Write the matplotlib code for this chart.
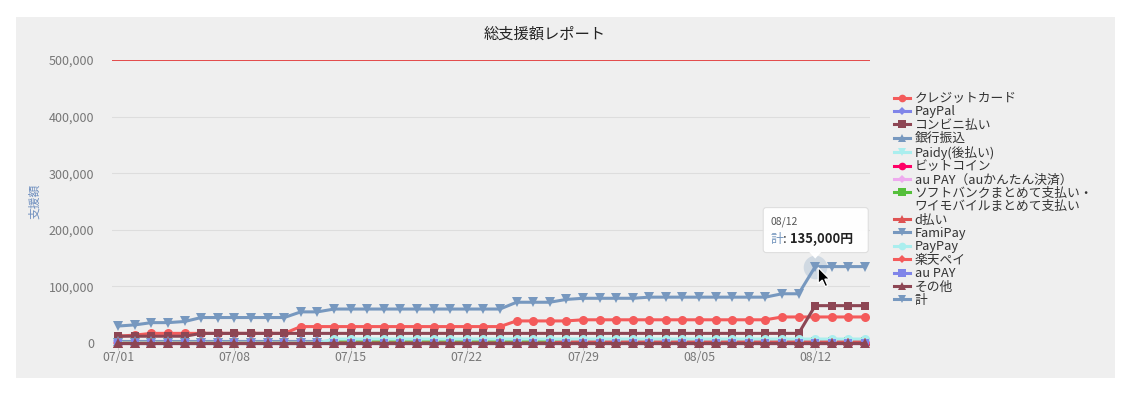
"""
総支援額レポート: 支払い方法別の累計支援額 (07/01-08/15)
出力: out.png
"""
import matplotlib
matplotlib.use('Agg')
import matplotlib.pyplot as plt
import matplotlib.transforms as mtransforms
from matplotlib.patches import Rectangle, FancyBboxPatch, Polygon
from matplotlib.lines import Line2D
from matplotlib.ticker import FuncFormatter

plt.rcParams['font.family'] = ['Noto Sans CJK JP', 'DejaVu Sans']

# 日付 (07/01 - 08/15)
dates = ['07/01', '07/02', '07/03', '07/04', '07/05', '07/06', '07/07', '07/08', '07/09', '07/10',
         '07/11', '07/12', '07/13', '07/14', '07/15', '07/16', '07/17', '07/18', '07/19', '07/20',
         '07/21', '07/22', '07/23', '07/24', '07/25', '07/26', '07/27', '07/28', '07/29', '07/30',
         '07/31', '08/01', '08/02', '08/03', '08/04', '08/05', '08/06', '08/07', '08/08', '08/09',
         '08/10', '08/11', '08/12', '08/13', '08/14', '08/15']
tick_labels = ['07/01', '07/08', '07/15', '07/22', '07/29', '08/05', '08/12']

credit = [12000, 14000, 17000, 17000, 17000, 17000, 17000, 17000, 17000, 17000,
          17000, 29000, 29000, 29000, 29000, 29000, 29000, 29000, 29000, 29000,
          29000, 29000, 29000, 29000, 39000, 39000, 39000, 39000, 41000, 41000,
          41000, 41000, 41000, 41000, 41000, 41000, 41000, 41000, 41000, 41000,
          46000, 46000, 46000, 46000, 46000, 46000]
paypal = [3000, 3000, 3000, 3000, 3000, 3000, 3000, 3000, 3000, 3000,
          3000, 3000, 3000, 3000, 3000, 3000, 3000, 3000, 3000, 3000,
          3000, 3000, 3000, 3000, 3000, 3000, 3000, 3000, 3000, 3000,
          3000, 3000, 3000, 3000, 3000, 3000, 3000, 3000, 3000, 3000,
          3000, 3000, 3000, 3000, 3000, 3000]
conbini = [12000, 12000, 12000, 12000, 12000, 17000, 17000, 17000, 17000, 17000,
           17000, 17000, 17000, 17000, 17000, 17000, 17000, 17000, 17000, 17000,
           17000, 17000, 17000, 17000, 17000, 17000, 17000, 17000, 17000, 17000,
           17000, 17000, 17000, 17000, 17000, 17000, 17000, 17000, 17000, 17000,
           17000, 17000, 66000, 66000, 66000, 66000]
bank = [3000, 3000, 3000, 3000, 3000, 3000, 3000, 3000, 3000, 3000,
        3000, 3000, 3000, 3000, 3000, 3000, 3000, 3000, 3000, 3000,
        3000, 3000, 3000, 3000, 3000, 3000, 3000, 3000, 3000, 3000,
        3000, 3000, 3000, 3000, 3000, 3000, 3000, 3000, 3000, 3000,
        3000, 3000, 3000, 3000, 3000, 3000]
zeros = [0, 0, 0, 0, 0, 0, 0, 0, 0, 0,
         0, 0, 0, 0, 0, 0, 0, 0, 0, 0,
         0, 0, 0, 0, 0, 0, 0, 0, 0, 0,
         0, 0, 0, 0, 0, 0, 0, 0, 0, 0,
         0, 0, 0, 0, 0, 0]
paidy = list(zeros)
bitcoin = list(zeros)
au_kantan = list(zeros)
softbank = [0, 0, 0, 0, 0, 0, 0, 0, 0, 0,
            0, 0, 0, 3000, 3000, 3000, 3000, 3000, 3000, 3000,
            3000, 3000, 3000, 3000, 3000, 3000, 3000, 3000, 3000, 3000,
            3000, 3000, 3000, 3000, 3000, 3000, 3000, 3000, 3000, 3000,
            3000, 3000, 3000, 3000, 3000, 3000]
d_pay = [0, 0, 0, 0, 0, 0, 0, 0, 0, 0,
         0, 0, 0, 0, 0, 0, 0, 0, 0, 0,
         0, 0, 0, 0, 0, 0, 0, 3000, 3000, 3000,
         3000, 3000, 3000, 3000, 3000, 3000, 3000, 3000, 3000, 3000,
         3000, 3000, 3000, 3000, 3000, 3000]
famipay = list(zeros)
paypay = [0, 0, 0, 0, 0, 0, 0, 0, 0, 0,
          0, 0, 0, 7000, 7000, 7000, 7000, 7000, 7000, 7000,
          7000, 7000, 7000, 7000, 7000, 7000, 7000, 7000, 7000, 7000,
          7000, 7000, 7000, 7000, 7000, 7000, 7000, 7000, 7000, 7000,
          7000, 7000, 7000, 7000, 7000, 7000]
rakuten = list(zeros)
au_pay = list(zeros)
sonota = list(zeros)
total = [30000, 32000, 36000, 36000, 38000, 45000, 45000, 45000, 45000, 45000,
         45000, 55000, 55000, 60000, 60000, 60000, 60000, 60000, 60000, 60000,
         60000, 60000, 60000, 60000, 72000, 72000, 72000, 77000, 79000, 79000,
         79000, 79000, 81000, 81000, 81000, 81000, 81000, 81000, 81000, 81000,
         87000, 87000, 135000, 135000, 135000, 135000]

goal = 500000

series = [
    ('クレジットカード', credit), ('PayPal', paypal), ('コンビニ払い', conbini),
    ('銀行振込', bank), ('Paidy(後払い)', paidy), ('ビットコイン', bitcoin),
    ('au PAY（auかんたん決済）', au_kantan), ('ソフトバンクまとめて支払い・', softbank),
    ('d払い', d_pay), ('FamiPay', famipay), ('PayPay', paypay), ('楽天ペイ', rakuten),
    ('au PAY', au_pay), ('その他', sonota), ('計', total),
]
# Highcharts sand-signika のカラー / マーカー順
colors = ['#f45b5b', '#8085e9', '#8d4654', '#7798BF', '#aaeeee', '#ff0066',
          '#eeaaee', '#55BF3B', '#DF5353', '#7798BF', '#aaeeee']
markers = ['o', 'D', 's', '^', 'v']
msizes = {'o': 6.5, 'D': 5.0, 's': 6.0, '^': 6.5, 'v': 6.5}

W, H = 1128, 397
fig = plt.figure(figsize=(W / 100, H / 100), dpi=100)
fig.patch.set_facecolor('white')
fig.patches.append(Rectangle((16 / W, (H - 378) / H), (1115 - 16) / W, (378 - 17) / H,
                             transform=fig.transFigure, facecolor='#efefef',
                             edgecolor='none', zorder=-10))

ax = fig.add_axes([112 / W, (H - 343) / H, (870 - 112) / W, (343 - 60) / H])
ax.set_facecolor('none')

x = list(range(len(dates)))
handles = []
for i, (name, vals) in enumerate(series):
    c = colors[i % len(colors)]
    m = markers[i % len(markers)]
    ax.plot(x, vals, color=c, linewidth=2.2, marker=m, markersize=msizes[m],
            markeredgewidth=0, zorder=3 + i * 0.1, clip_on=False)
    handles.append(Line2D([], [], color=c, linewidth=2.2, marker=m,
                          markersize=msizes[m] * 0.85, markeredgewidth=0))
    if name.endswith('・'):
        handles.append(Line2D([], [], color='none'))

labels = [s[0] for s in series]
labels.insert(8, 'ワイモバイルまとめて支払い')

ax.set_xlim(-0.38, 45.3)
ax.set_ylim(0, 500000)
ax.set_yticks([0, 100000, 200000, 300000, 400000, 500000])
ax.yaxis.set_major_formatter(FuncFormatter(lambda v, p: f'{int(v):,}'))
ax.set_xticks([dates.index(t) for t in tick_labels])
ax.set_xticklabels(tick_labels)
ax.tick_params(axis='y', length=0, pad=13, labelsize=9, labelcolor='#777777')
ax.tick_params(axis='x', length=5, width=0.8, color='#cccccc', pad=1,
               labelsize=8.8, labelcolor='#777777')
ax.grid(axis='y', color='#dddddd', linewidth=0.8)
ax.set_axisbelow(True)
for s in ax.spines.values():
    s.set_visible(False)
ax.axhline(goal, color='#e52222', linewidth=1.1, zorder=2)

ax.set_ylabel('支援額', color='#6f8fbf', fontsize=8.5, labelpad=5)
fig.text(545 / W, (H - 34) / H, '総支援額レポート', ha='center', va='center',
         fontsize=11, color='#222222')

fig.legend(handles, labels, loc='upper left', bbox_to_anchor=(889 / W, (H - 87) / H),
           frameon=False, fontsize=9.2, handlelength=1.25, handletextpad=0.35,
           labelspacing=0.03, borderaxespad=0, labelcolor='#333333')

# ツールチップ (08/12 の 計)
fig.canvas.draw()
hi = dates.index('08/12')
px, py = ax.transData.transform((hi, total[hi]))
tt = mtransforms.Affine2D().translate(px, py)
ax.plot([hi], [total[hi]], marker='o', markersize=17, color='#7798BF', alpha=0.25,
        markeredgewidth=0, zorder=4.5, clip_on=False)
box = FancyBboxPatch((-52, 14), 105, 45, boxstyle='round,pad=0,rounding_size=3',
                     transform=tt, facecolor='white', edgecolor='#dddddd',
                     linewidth=0.8, alpha=0.95, zorder=10)
ax.add_artist(box)
ax.add_artist(Polygon([(-6, 14.5), (6, 14.5), (0, 8)], closed=True, transform=tt,
                      facecolor='white', edgecolor='none', zorder=10))
ax.text(-45, 45, dates[hi], transform=tt, fontsize=7.5, color='#555555',
        va='center', ha='left', zorder=11)
t1 = ax.text(-45, 27, '計', transform=tt, fontsize=9.3, color='#7798BF',
             va='center', ha='left', zorder=11)
t2 = ax.annotate(': ', xy=(1, 0), xycoords=t1, va='bottom', ha='left',
                 fontsize=9.3, color='#333333', zorder=11)
ax.annotate(f'{total[hi]:,}円', xy=(1, 0), xycoords=t2, va='bottom', ha='left',
            fontsize=9.3, color='#222222', fontweight='bold', zorder=11)

# マウスカーソル
cursor = [(0, 0), (0, -16), (4, -12.5), (7, -19), (9.5, -18), (6.6, -11.5), (11.5, -11.5)]
ax.add_artist(Polygon([(cx + 3, cy - 1) for cx, cy in cursor], closed=True, transform=tt,
                      facecolor='black', edgecolor='white', linewidth=0.9, zorder=12))

fig.savefig('out.png', dpi=100)
print('saved out.png')
